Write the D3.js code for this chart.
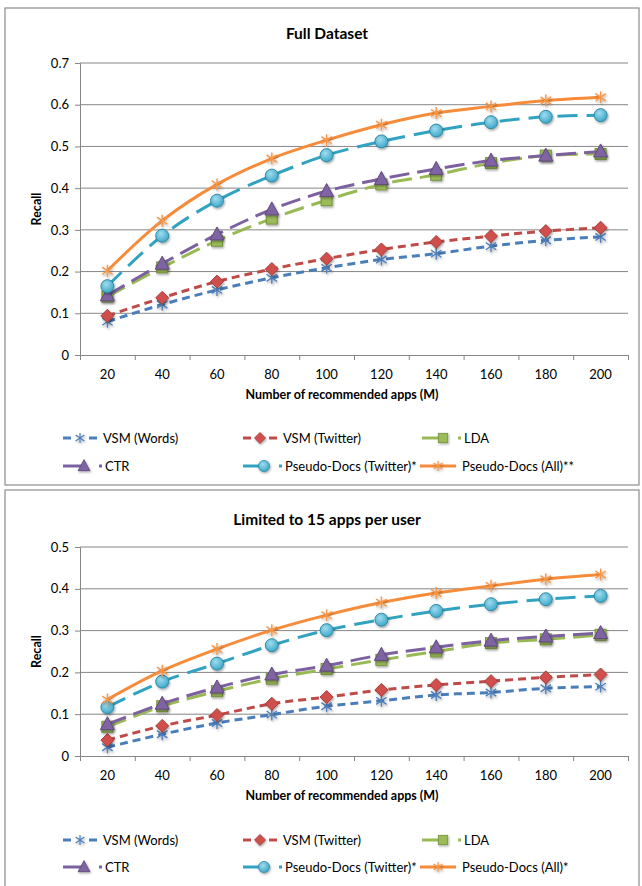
<!DOCTYPE html>
<html>
<head>
<meta charset="utf-8">
<script src="https://cdn.jsdelivr.net/npm/d3@7"></script>
<style>
  html, body { margin: 0; padding: 0; background: #fff; }
  svg { display: block; }
  text { font-family: Lato, "Open Sans", sans-serif; fill: #000; }
</style>
</head>
<body>
<svg id="chart" width="642" height="886"></svg>
<script>
// Number of recommended apps (M)
const categories = [20, 40, 60, 80, 100, 120, 140, 160, 180, 200];

const seriesNames = ["VSM (Words)", "VSM (Twitter)", "LDA", "CTR",
                     "Pseudo-Docs (Twitter)*", "Pseudo-Docs (All)**"];
const seriesNamesLimited = ["VSM (Words)", "VSM (Twitter)", "LDA", "CTR",
                            "Pseudo-Docs (Twitter)*", "Pseudo-Docs (All)*"];

// Recall, full dataset
const fullVsmWords   = [0.080, 0.121, 0.156, 0.185, 0.209, 0.229, 0.243, 0.261, 0.275, 0.283];
const fullVsmTwitter = [0.094, 0.137, 0.176, 0.206, 0.231, 0.253, 0.271, 0.285, 0.297, 0.305];
const fullLda        = [0.140, 0.210, 0.274, 0.327, 0.371, 0.409, 0.432, 0.460, 0.478, 0.482];
const fullCtr        = [0.143, 0.219, 0.289, 0.349, 0.393, 0.422, 0.446, 0.466, 0.478, 0.488];
const fullPdTwitter  = [0.165, 0.286, 0.370, 0.430, 0.479, 0.512, 0.538, 0.558, 0.571, 0.575];
const fullPdAll      = [0.202, 0.322, 0.409, 0.471, 0.515, 0.552, 0.580, 0.596, 0.610, 0.618];

// Recall, limited to 15 apps per user
const limVsmWords   = [0.021, 0.052, 0.079, 0.099, 0.119, 0.132, 0.146, 0.152, 0.162, 0.166];
const limVsmTwitter = [0.038, 0.072, 0.098, 0.125, 0.141, 0.158, 0.170, 0.179, 0.188, 0.195];
const limLda        = [0.070, 0.119, 0.155, 0.185, 0.208, 0.230, 0.250, 0.270, 0.279, 0.290];
const limCtr        = [0.076, 0.125, 0.164, 0.195, 0.216, 0.242, 0.260, 0.276, 0.286, 0.294];
const limPdTwitter  = [0.117, 0.178, 0.221, 0.265, 0.301, 0.326, 0.347, 0.363, 0.375, 0.383];
const limPdAll      = [0.135, 0.204, 0.256, 0.301, 0.337, 0.367, 0.390, 0.407, 0.423, 0.434];

const fullTicks = [0, 0.1, 0.2, 0.3, 0.4, 0.5, 0.6, 0.7];
const limTicks  = [0, 0.1, 0.2, 0.3, 0.4, 0.5];

// Per-series drawing style
const styles = [
  { line: "#4a7ebb", fill: "#4f81bd", stroke: "#3a6aa5", dash: "8,5",  marker: "star",     legendDash: true },
  { line: "#be4b48", fill: "#d0504d", stroke: "#a33e3b", dash: "8,5",  marker: "diamond",  legendDash: true },
  { line: "#98b954", fill: "#9bbb59", stroke: "#76923c", dash: "20,8", marker: "square",   legendDash: false },
  { line: "#7d60a0", fill: "#8064a2", stroke: "#5f4a7b", dash: "20,8", marker: "triangle", legendDash: false },
  { line: "#31a3c1", fill: "#4bacc6", stroke: "#2e8aa6", dash: "20,9", marker: "circle",   legendDash: false },
  { line: "#f68c3a", fill: "#f79646", stroke: "#f08030", dash: null,   marker: "star",     legendDash: false }
];

const svg = d3.select("#chart");
const defs = svg.append("defs");
const shadow = defs.append("filter").attr("id", "mshadow")
  .attr("x", "-50%").attr("y", "-50%").attr("width", "200%").attr("height", "200%");
shadow.append("feDropShadow").attr("dx", 1).attr("dy", 1.5)
  .attr("stdDeviation", 1).attr("flood-color", "#000").attr("flood-opacity", 0.35);
const grad = defs.append("radialGradient").attr("id", "cyanGrad")
  .attr("cx", "40%").attr("cy", "35%").attr("r", "65%");
grad.append("stop").attr("offset", "0%").attr("stop-color", "#9fdcef");
grad.append("stop").attr("offset", "100%").attr("stop-color", "#3fa9c9");

function drawMarker(g, type, cx, cy, st, scale = 1) {
  const m = g.append("g").attr("transform", `translate(${cx},${cy}) scale(${scale})`)
    .attr("filter", "url(#mshadow)");
  if (type === "circle") {
    m.append("circle").attr("r", 6.5).attr("fill", "url(#cyanGrad)")
      .attr("stroke", st.stroke).attr("stroke-width", 1);
  } else if (type === "square") {
    m.append("rect").attr("x", -5.5).attr("y", -5.5).attr("width", 11).attr("height", 11)
      .attr("fill", st.fill).attr("stroke", st.stroke).attr("stroke-width", 1);
  } else if (type === "diamond") {
    m.append("path").attr("d", "M0,-6.5L6.5,0L0,6.5L-6.5,0Z")
      .attr("fill", st.fill).attr("stroke", st.stroke).attr("stroke-width", 1);
  } else if (type === "triangle") {
    m.append("path").attr("d", "M0,-7.5L7,5.5L-7,5.5Z")
      .attr("fill", st.fill).attr("stroke", st.stroke).attr("stroke-width", 1);
  } else if (type === "star") {
    const r = 6;
    const p = `M0,${-r}L0,${r}M${-r * 0.87},${-r * 0.6}L${r * 0.87},${r * 0.6}M${-r * 0.87},${r * 0.6}L${r * 0.87},${-r * 0.6}`;
    m.append("path").attr("d", p).attr("fill", "none")
      .attr("stroke", st.fill).attr("stroke-width", 1.4);
  }
}

function drawChart(cfg) {
  const g = svg.append("g");
  // chart frame
  g.append("rect").attr("x", cfg.frame[0]).attr("y", cfg.frame[1])
    .attr("width", cfg.frame[2]).attr("height", cfg.frame[3])
    .attr("fill", "#fff").attr("stroke", "#8c8c8c").attr("stroke-width", 1.2);

  const x = d3.scaleBand().domain(categories).range([80, 628]);
  const y = d3.scaleLinear().domain([0, d3.max(cfg.ticks)]).range([cfg.bottom, cfg.top]);
  const xc = c => x(c) + x.bandwidth() / 2;

  // title
  g.append("text").attr("x", 327).attr("y", cfg.titleY).attr("text-anchor", "middle")
    .attr("font-size", 15.5).attr("font-weight", "bold").text(cfg.title);

  // gridlines and y axis
  const yAxis = d3.axisLeft(y).tickValues(cfg.ticks).tickSize(5).tickPadding(6)
    .tickFormat(d => d === 0 ? "0" : d3.format(".1f")(d));
  const ya = g.append("g").attr("transform", "translate(80,0)").call(yAxis);
  ya.select(".domain").attr("stroke", "#868686");
  ya.selectAll(".tick line").attr("stroke", "#868686");
  ya.selectAll(".tick text").attr("font-size", 13).attr("font-family", "Lato, sans-serif").attr("fill", "#000");
  g.append("g").selectAll("line").data(cfg.ticks.filter(t => t > 0)).join("line")
    .attr("x1", 80).attr("x2", 628).attr("y1", d => y(d)).attr("y2", d => y(d))
    .attr("stroke", "#868686").attr("stroke-width", 1);

  // x axis: ticks on category boundaries, labels at centers
  const xb = d3.scaleLinear().domain([0, categories.length]).range([80, 628]);
  const xa = g.append("g").attr("transform", `translate(0,${cfg.bottom})`)
    .call(d3.axisBottom(xb).tickValues(d3.range(categories.length + 1))
      .tickSize(5).tickFormat(""));
  xa.select(".domain").attr("stroke", "#868686");
  xa.selectAll(".tick line").attr("stroke", "#868686");
  const xl = g.append("g").attr("transform", `translate(0,${cfg.bottom})`)
    .call(d3.axisBottom(x).tickSize(0).tickPadding(15));
  xl.select(".domain").remove();
  xl.selectAll(".tick text").attr("font-size", 13).attr("font-family", "Lato, sans-serif").attr("fill", "#000");

  // axis titles
  g.append("text").attr("x", 342).attr("y", cfg.bottom + 44).attr("text-anchor", "middle")
    .attr("font-size", 12.5).attr("font-weight", "bold").text("Number of recommended apps (M)");
  g.append("text").attr("transform", `translate(41,${(cfg.top + cfg.bottom) / 2}) rotate(-90)`)
    .attr("text-anchor", "middle").attr("font-size", 12.5).attr("font-weight", "bold").text("Recall");

  // series lines
  const line = d3.line().x((d, i) => xc(categories[i])).y(d => y(d))
    .curve(d3.curveCatmullRom.alpha(0.5));
  cfg.series.forEach((vals, s) => {
    const st = styles[s];
    g.append("path").datum(vals).attr("d", line).attr("fill", "none")
      .attr("stroke", st.line).attr("stroke-width", 3)
      .attr("stroke-dasharray", st.dash).attr("stroke-linecap", "butt");
    vals.forEach((v, i) => drawMarker(g, st.marker, xc(categories[i]), y(v), st));
  });

  // legend
  const cols = [63, 243, 422];
  cfg.names.forEach((name, s) => {
    const st = styles[s];
    const lx = cols[s % 3];
    const ly = cfg.legendY[Math.floor(s / 3)];
    const lg = g.append("g");
    if (st.legendDash) {
      lg.append("line").attr("x1", lx).attr("x2", lx + 8).attr("y1", ly).attr("y2", ly)
        .attr("stroke", st.line).attr("stroke-width", 3);
      lg.append("line").attr("x1", lx + 26).attr("x2", lx + 34).attr("y1", ly).attr("y2", ly)
        .attr("stroke", st.line).attr("stroke-width", 3);
      drawMarker(lg, st.marker, lx + 17, ly, st, 0.85);
      lg.append("text").attr("x", lx + 40).attr("y", ly + 5).attr("font-size", 13).text(name);
    } else if (st.dash) {
      lg.append("line").attr("x1", lx).attr("x2", lx + 22).attr("y1", ly).attr("y2", ly)
        .attr("stroke", st.line).attr("stroke-width", 3);
      drawMarker(lg, st.marker, lx + 21, ly, st, 0.85);
      lg.append("rect").attr("x", lx + 36).attr("y", ly - 1.5).attr("width", 3).attr("height", 3)
        .attr("fill", st.line);
      lg.append("text").attr("x", lx + 42).attr("y", ly + 5).attr("font-size", 13).text(name);
    } else {
      lg.append("line").attr("x1", lx - 2).attr("x2", lx + 34).attr("y1", ly).attr("y2", ly)
        .attr("stroke", st.line).attr("stroke-width", 3);
      drawMarker(lg, st.marker, lx + 16, ly, st, 0.85);
      lg.append("text").attr("x", lx + 40).attr("y", ly + 5).attr("font-size", 13).text(name);
    }
  });
}

drawChart({
  frame: [5, 8, 634, 477], title: "Full Dataset", titleY: 38.5,
  top: 63, bottom: 355, ticks: fullTicks, legendY: [438, 466],
  names: seriesNames,
  series: [fullVsmWords, fullVsmTwitter, fullLda, fullCtr, fullPdTwitter, fullPdAll]
});
drawChart({
  frame: [5, 490, 634, 400], title: "Limited to 15 apps per user", titleY: 524.5,
  top: 547, bottom: 756, ticks: limTicks, legendY: [840, 867],
  names: seriesNamesLimited,
  series: [limVsmWords, limVsmTwitter, limLda, limCtr, limPdTwitter, limPdAll]
});
</script>
</body>
</html>
